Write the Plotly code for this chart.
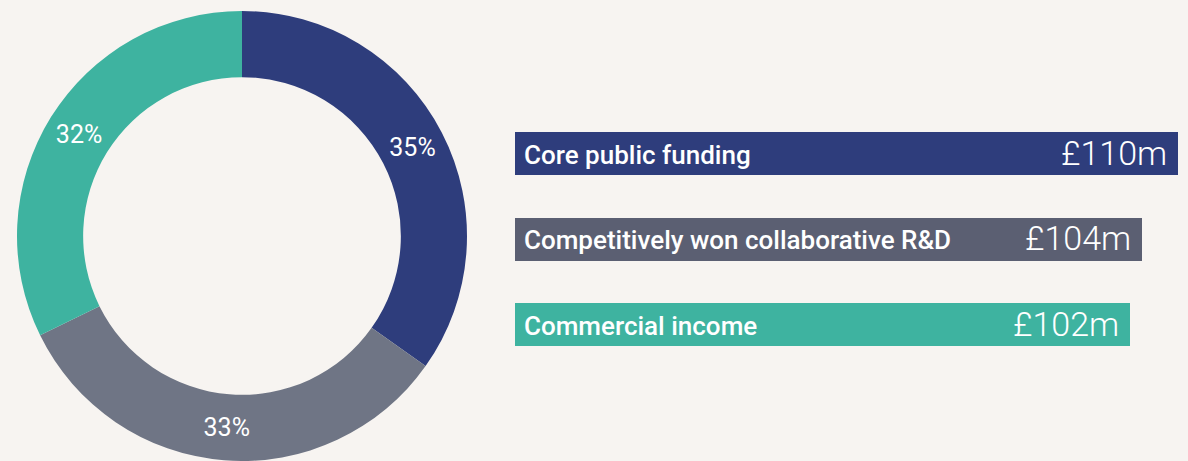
import plotly.graph_objects as go

# Data
categories = ["Core public funding", "Competitively won collaborative R&D", "Commercial income"]
values_m = [110, 104, 102]
value_labels = ["£110m", "£104m", "£102m"]

pie_colors = ["#2E3D7C", "#6F7585", "#3EB3A0"]
bar_colors = ["#2E3D7C", "#5B5F72", "#3EB3A0"]
bg = "#F7F4F1"

W, H = 1188, 461
mt = 11
plot_h = H - mt

fig = go.Figure()

# Donut
cx, r = 242, 225
fig.add_trace(go.Pie(
    labels=categories,
    values=values_m,
    sort=False,
    direction="clockwise",
    rotation=0,
    hole=0.706,
    marker=dict(colors=pie_colors, line=dict(width=0)),
    texttemplate="%{percent:.0%}",
    textposition="inside",
    insidetextorientation="horizontal",
    textfont=dict(family="Roboto", size=25, color="white"),
    domain=dict(x=[(cx - r) / W, (cx + r) / W], y=[0, 1]),
    showlegend=False,
    hoverinfo="skip",
))

# Bars
px_per_unit = 6.03
x0_px = 515
x_range_max = (W - x0_px) / px_per_unit
fig.add_trace(go.Bar(
    x=values_m,
    y=categories,
    orientation="h",
    marker=dict(color=bar_colors, line=dict(width=0)),
    width=0.503,
    hoverinfo="skip",
    showlegend=False,
    xaxis="x",
    yaxis="y",
))

top_px, bot_px = 110.75, 367.25
fig.update_layout(
    width=W, height=H,
    margin=dict(l=0, r=0, t=mt, b=0),
    paper_bgcolor=bg, plot_bgcolor=bg,
    xaxis=dict(domain=[x0_px / W, 1], range=[0, x_range_max], visible=False, fixedrange=True),
    yaxis=dict(domain=[1 - (bot_px - mt) / plot_h, 1 - (top_px - mt) / plot_h],
               categoryorder="array", categoryarray=categories,
               range=[2.5, -0.5], visible=False, fixedrange=True),
    bargap=0,
)

for cat, v, lab in zip(categories, values_m, value_labels):
    fig.add_annotation(x=0, y=cat, xref="x", yref="y", text=cat, showarrow=False,
                       xanchor="left", yanchor="middle", xshift=7, yshift=-1,
                       font=dict(family="Roboto", size=26, weight=500, color="white"))
    fig.add_annotation(x=v, y=cat, xref="x", yref="y", text=lab, showarrow=False,
                       xanchor="right", yanchor="middle", xshift=-9, yshift=1,
                       font=dict(family="Roboto", size=34, weight=300, color="white"))

fig.write_html("out.html", config={"displayModeBar": False},
               post_script="document.body.style.margin='0';document.body.style.overflow='hidden';document.body.style.background='" + bg + "';")
